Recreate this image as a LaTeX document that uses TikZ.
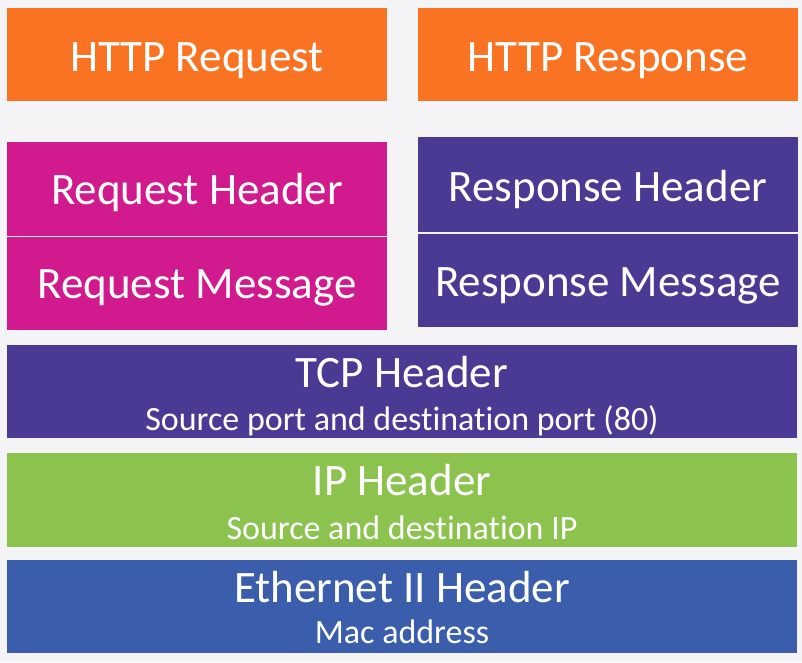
\documentclass[tikz,border=0pt]{standalone}
\usepackage{fontspec}
\setmainfont{Carlito}[Ligatures=NoCommon]
\definecolor{bgcol}{HTML}{F4F4F6}
\definecolor{httporange}{HTML}{FA7322}
\definecolor{reqmagenta}{HTML}{D01A8E}
\definecolor{layerpurple}{HTML}{4A3A94}
\definecolor{ipgreen}{HTML}{8CC34F}
\definecolor{ethblue}{HTML}{3A5DAC}
\tikzset{
  layer/.style={rectangle, inner sep=0pt, anchor=north west},
  title/.style={anchor=base, text=white, inner sep=0pt, font=\fontsize{45}{54}\selectfont},
  subtitle/.style={anchor=base, text=white, inner sep=0pt, font=\fontsize{34}{40}\selectfont},
}
\begin{document}
\begin{tikzpicture}[x=1pt, y=-1pt]
\fill[bgcol] (0,0) rectangle (802,662);
% http layer
\node[layer, fill=httporange, minimum width=380pt, minimum height=93pt] (httpreq) at (7,8) {};
\node[title] (httpreqtext) at (197,71) {HTTP Request};
\node[layer, fill=httporange, minimum width=380pt, minimum height=93pt] (httpresp) at (418,8) {};
\node[title] (httpresptext) at (608,71) {HTTP Response};
% request / response parts
\node[layer, fill=reqmagenta, minimum width=380pt, minimum height=94pt] (reqhead) at (7,142) {};
\node[title] (reqheadtext) at (197,204) {Request Header};
\node[layer, fill=reqmagenta, minimum width=380pt, minimum height=93pt] (reqmsg) at (7,237) {};
\node[title] (reqmsgtext) at (197,298.5) {Request Message};
\node[layer, fill=layerpurple, minimum width=380pt, minimum height=95pt] (resphead) at (418,137) {};
\node[title] (respheadtext) at (608,201) {Response Header};
\node[layer, fill=layerpurple, minimum width=380pt, minimum height=93pt] (respmsg) at (418,234) {};
\node[title] (respmsgtext) at (608,296) {Response Message};
% lower layers
\node[layer, fill=layerpurple, minimum width=790pt, minimum height=93pt] (tcp) at (7,345) {};
\node[title] (tcptext) at (402,387) {TCP Header};
\node[subtitle] (tcpsub) at (402,430) {Source port and destination port (80)};
\node[layer, fill=ipgreen, minimum width=790pt, minimum height=94pt] (ip) at (7,453) {};
\node[title] (iptext) at (402,495) {IP Header};
\node[subtitle] (ipsub) at (402,539) {Source and destination IP};
\node[layer, fill=ethblue, minimum width=790pt, minimum height=93pt] (eth) at (7,560) {};
\node[title] (ethtext) at (402,602) {Ethernet II Header};
\node[subtitle] (ethsub) at (402,643) {Mac address};
\end{tikzpicture}
\end{document}
